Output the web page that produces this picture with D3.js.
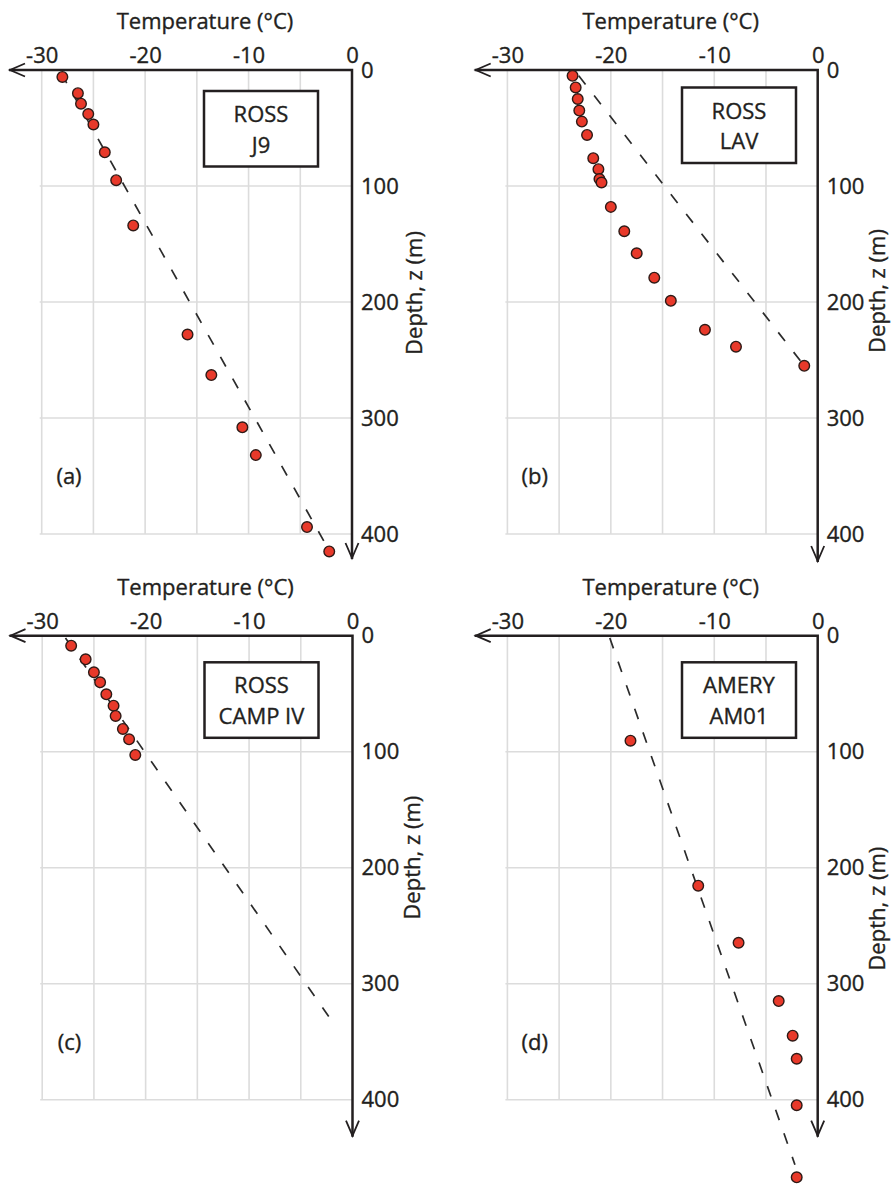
<!DOCTYPE html>
<html lang="en">
<head>
    <meta charset="UTF-8">
    <title>Firn temperature profiles</title>
    <script src="https://d3js.org/d3.v7.min.js"></script>
    <style>
        body { margin: 0; background: #fff; }
        svg { display: block; font-family: "Open Sans", sans-serif; }
        text { fill: #231f20; stroke: #231f20; stroke-width: 0.35px; }
    </style>
</head>
<body>
    <div id="chart-container"></div>

    <script>
        // shared axis values
        const tempTicks = [-30, -20, -10, 0];
        const gridTemps = [-30, -25, -20, -15, -10, -5];
        const depthTicks = [0, 100, 200, 300, 400];
        const gridDepths = [100, 200, 300, 400];

        const panelTags = ["(a)", "(b)", "(c)", "(d)"];
        const siteNames = [["ROSS", "J9"], ["ROSS", "LAV"], ["ROSS", "CAMP IV"], ["AMERY", "AM01"]];

        // (a) Ross J9 - measured temperature (°C) and depth (m)
        const tempA = [-28.0, -26.5, -26.2, -25.5, -25.0, -23.9, -22.8, -21.15, -15.9, -13.6, -10.6, -9.3, -4.35, -2.2];
        const depthA = [6, 20, 29, 38, 47, 71, 95, 134, 228, 263, 308, 332, 394, 415];
        const fitA = [[-28.1, 3], [-2.35, 412]];

        // (b) Ross LAV
        const tempB = [-23.7, -23.4, -23.2, -23.05, -22.8, -22.3, -21.7, -21.2, -21.1, -20.9, -20.0, -18.7, -17.5, -15.8, -14.2, -10.9, -7.9, -1.3];
        const depthB = [5, 15, 25, 35, 44.5, 56, 76, 85.5, 94, 97, 118, 139, 158, 179, 199, 224, 238.5, 255];
        const fitB = [[-23.1, 5], [-1.3, 255]];

        // (c) Ross Camp IV
        const tempC = [-27.2, -25.8, -25.0, -24.4, -23.8, -23.1, -22.9, -22.2, -21.6, -21.0];
        const depthC = [8.6, 20.4, 31.6, 40.2, 50.5, 60.3, 69.2, 80.4, 89.3, 102.8];
        const fitC = [[-27.75, 2], [-1.85, 334]];

        // (d) Amery AM01
        const tempD = [-18.1, -11.55, -7.65, -3.77, -2.42, -2.03, -2.03, -2.03];
        const depthD = [90.5, 215.5, 264.7, 315, 344.8, 364.7, 404.8, 466.9];
        const fitD = [[-20.1, 2], [-2.2, 456]];

        const temps = [tempA, tempB, tempC, tempD];
        const depths = [depthA, depthB, depthC, depthD];
        const fits = [fitA, fitB, fitC, fitD];

        // layout: where each panel's 0°C / 0 m corner sits
        const layout = [
            { x0: 352, y0: 70, boxX: -148, boxY: 21, arrowLen: 489, labX: 70, labY: 223 },
            { x0: 817.7, y0: 70, boxX: -135.7, boxY: 17.5, arrowLen: 492, labX: 67.5, labY: 221 },
            { x0: 352.5, y0: 635.7, boxX: -148, boxY: 26.6, arrowLen: 501, labX: 67, labY: 222 },
            { x0: 817.7, y0: 635.7, boxX: -135.7, boxY: 26.6, arrowLen: 501, labX: 67.5, labY: 273 }
        ];

        const ink = "#231f20";
        const svg = d3.select("#chart-container")
            .append("svg")
            .attr("width", 892)
            .attr("height", 1184);

        layout.forEach(function(p, i) {
            const x = d3.scaleLinear().domain([-30, 0]).range([p.x0 - 310.3, p.x0]);
            const y = d3.scaleLinear().domain([0, 400]).range([p.y0, p.y0 + 464]);
            const g = svg.append("g");

            // grid
            g.selectAll(".vgrid")
                .data(gridTemps)
                .enter()
                .append("line")
                .attr("x1", d => x(d)).attr("x2", d => x(d))
                .attr("y1", y(0)).attr("y2", y(400))
                .style("stroke", "#dcdcdc")
                .style("stroke-width", 1.6);
            g.selectAll(".hgrid")
                .data(gridDepths)
                .enter()
                .append("line")
                .attr("x1", x(-30) - 2).attr("x2", x(0))
                .attr("y1", d => y(d)).attr("y2", d => y(d))
                .style("stroke", "#dcdcdc")
                .style("stroke-width", 1.6);

            // site box
            g.append("rect")
                .attr("x", p.x0 + p.boxX)
                .attr("y", p.y0 + p.boxY)
                .attr("width", 114)
                .attr("height", 75.5)
                .style("fill", "#fff")
                .style("stroke", ink)
                .style("stroke-width", 2.5);
            g.selectAll(".site")
                .data(siteNames[i])
                .enter()
                .append("text")
                .attr("x", p.x0 + p.boxX + 57)
                .attr("y", (d, k) => p.y0 + p.boxY + 31 + k * 30.5)
                .attr("text-anchor", "middle")
                .style("font-size", "22px")
                .text(d => d);

            // axes with arrows
            const tipX = p.x0 - 343;
            const tipY = p.y0 + p.arrowLen;
            g.append("path")
                .attr("d", `M${tipX},${p.y0}H${p.x0}V${tipY}`)
                .style("fill", "none")
                .style("stroke", ink)
                .style("stroke-width", 2.5);
            g.append("path")
                .attr("d", `M${tipX + 16},${p.y0 - 6.5}L${tipX + 1},${p.y0}L${tipX + 16},${p.y0 + 6.5}`)
                .style("fill", "none")
                .style("stroke", ink)
                .style("stroke-width", 1.8);
            g.append("path")
                .attr("d", `M${p.x0 - 6.5},${tipY - 16}L${p.x0},${tipY - 1}L${p.x0 + 6.5},${tipY - 16}`)
                .style("fill", "none")
                .style("stroke", ink)
                .style("stroke-width", 1.8);

            // tick labels
            const top = g.append("g")
                .attr("transform", `translate(0,${p.y0})`)
                .call(d3.axisTop(x).tickValues(tempTicks).tickSize(0).tickPadding(7).tickFormat(d3.format("d")));
            const right = g.append("g")
                .attr("transform", `translate(${p.x0},0)`)
                .call(d3.axisRight(y).tickValues(depthTicks).tickSize(0).tickPadding(9).tickFormat(d3.format("d")));
            [top, right].forEach(function(a) {
                a.select(".domain").remove();
                a.selectAll("text")
                    .attr("fill", ink)
                    .style("font-size", "22px")
                    .style("font-family", "'Open Sans', sans-serif");
            });
            top.selectAll("text").text(d => d < 0 ? "-" + Math.abs(d) : d);

            // axis titles
            g.append("text")
                .attr("x", p.x0 - 147)
                .attr("y", p.y0 - 41)
                .attr("text-anchor", "middle")
                .style("font-size", "22px")
                .text("Temperature (°C)");
            g.append("text")
                .attr("transform", `translate(${p.x0 + p.labX},${p.y0 + p.labY}) rotate(-90)`)
                .attr("text-anchor", "middle")
                .style("font-size", "22px")
                .text("Depth, z (m)");

            g.append("text")
                .attr("x", p.x0 - 283)
                .attr("y", p.y0 + 414)
                .attr("text-anchor", "middle")
                .style("font-size", "22px")
                .text(panelTags[i]);

            // fitted profile
            g.append("path")
                .datum(fits[i])
                .attr("d", d3.line().x(d => x(d[0])).y(d => y(d[1])))
                .style("fill", "none")
                .style("stroke", "#2b2b2b")
                .style("stroke-width", 1.7)
                .style("stroke-dasharray", "11,14");

            // measurements
            g.selectAll(".point")
                .data(d3.zip(temps[i], depths[i]))
                .enter()
                .append("circle")
                .attr("class", "point")
                .attr("cx", d => x(d[0]))
                .attr("cy", d => y(d[1]))
                .attr("r", 5.3)
                .style("fill", "#e8392a")
                .style("stroke", "#2e1a16")
                .style("stroke-width", 1.4);
        });
    </script>
</body>
</html>
